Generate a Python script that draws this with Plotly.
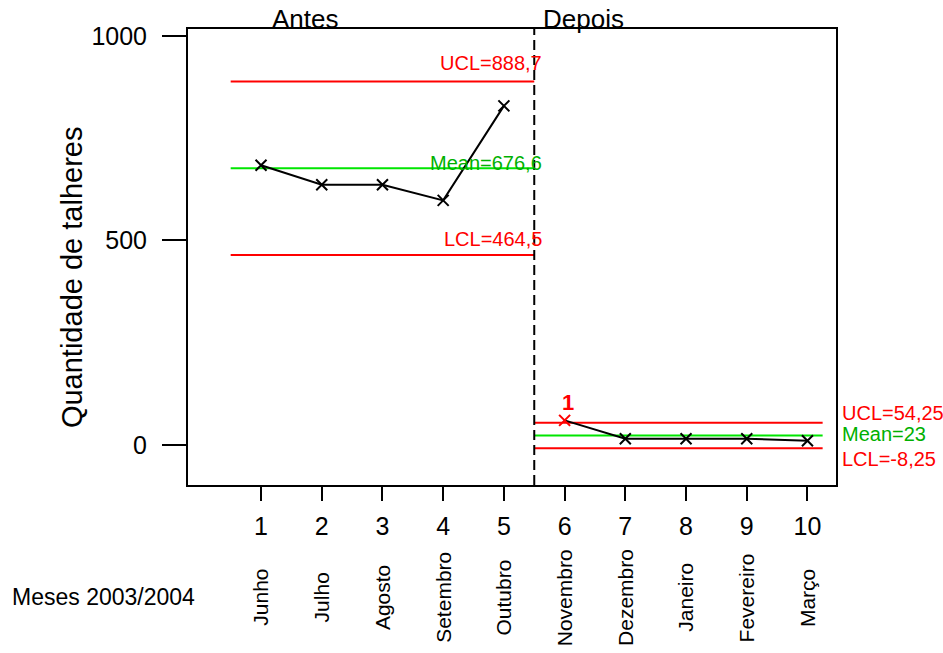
import plotly.graph_objects as go

# Monthly counts of cutlery, before and after the change
months = ["Junho", "Julho", "Agosto", "Setembro", "Outubro",
          "Novembro", "Dezembro", "Janeiro", "Fevereiro", "Março"]
sample = [1, 2, 3, 4, 5, 6, 7, 8, 9, 10]
quantity = [684, 636, 636, 598, 829, 60, 15, 15, 15, 10]

# Two stages of the individuals chart
stage_names = ["Antes", "Depois"]
stage_first = [1, 6]
stage_last = [5, 10]
ucl = [888.7, 54.25]
center = [676.6, 23]
lcl = [464.5, -8.25]

# Points flagged by test 1 (beyond the control limits)
flagged = [6]

RED = "#ff0000"
GREEN_LINE = "#00e600"
GREEN_TEXT = "#00b000"
FONT = "Liberation Sans, Arial, sans-serif"


def fmt(v):
    return f"{v:g}".replace(".", ",")


fig = go.Figure()

# Control limits and centre line for each stage
for k in range(len(stage_names)):
    x0 = stage_first[k] - 0.5
    x1 = stage_last[k] + (0.5 if k == 0 else 0.25)
    for val, col in ((ucl[k], RED), (center[k], GREEN_LINE), (lcl[k], RED)):
        fig.add_trace(go.Scatter(x=[x0, x1], y=[val, val], mode="lines",
                                 line=dict(color=col, width=2),
                                 hoverinfo="skip", showlegend=False))

# Observations, connected within each stage
for k in range(len(stage_names)):
    idx = [i for i, s in enumerate(sample) if stage_first[k] <= s <= stage_last[k]]
    xs = [sample[i] for i in idx]
    ys = [quantity[i] for i in idx]
    cols = [RED if sample[i] in flagged else "black" for i in idx]
    fig.add_trace(go.Scatter(x=xs, y=ys, mode="lines+markers",
                             line=dict(color="black", width=2),
                             marker=dict(symbol="x-thin", size=11,
                                         line=dict(color=cols, width=2)),
                             showlegend=False))

# Stage divider
fig.add_shape(type="line", xref="x", yref="paper",
              x0=stage_last[0] + 0.5, x1=stage_last[0] + 0.5, y0=0, y1=1,
              line=dict(color="black", width=2, dash="10px,5px"))

ann = []
# Stage names on the top border
stage_label_x = [1.74, 6.31]
for k, name in enumerate(stage_names):
    ann.append(dict(x=stage_label_x[k], y=0.985,
                    xref="x", yref="paper", text=name, showarrow=False,
                    xanchor="center", yanchor="bottom",
                    font=dict(size=26, color="black", family=FONT)))

# Limit labels, stage 1 (right-aligned at the divider)
xr = stage_last[0] + 0.66
for val, col, dy, lab in ((ucl[0], RED, 18, "UCL"), (center[0], GREEN_TEXT, 5, "Mean"),
                          (lcl[0], RED, 16, "LCL")):
    ann.append(dict(x=xr, y=val, xref="x", yref="y", text=f"{lab}={fmt(val)}",
                    showarrow=False, xanchor="right", yanchor="middle", yshift=dy,
                    font=dict(size=20, color=col, family=FONT)))

# Limit labels, stage 2 (outside the plot on the right)
for val, col, dy, lab in ((ucl[1], RED, 10, "UCL"), (center[1], GREEN_TEXT, 2, "Mean"),
                          (lcl[1], RED, -11, "LCL")):
    ann.append(dict(x=1.006, y=val, xref="paper", yref="y", text=f"{lab}={fmt(val)}",
                    showarrow=False, xanchor="left", yanchor="middle", yshift=dy,
                    font=dict(size=20, color=col, family=FONT)))

# Test-failure marker
for s in flagged:
    ann.append(dict(x=s + 0.05, y=quantity[sample.index(s)], xref="x", yref="y",
                    text="<b>1</b>", showarrow=False, xanchor="center", yanchor="bottom",
                    yshift=3, font=dict(size=22, color=RED, family=FONT)))

# Month names under the sample numbers
for s, m in zip(sample, months):
    ann.append(dict(x=s, y=-0.247, xref="x", yref="paper", text=m, textangle=-90,
                    showarrow=False, xanchor="center", yanchor="middle",
                    font=dict(size=21, color="black", family=FONT)))

ann.append(dict(x=-0.274, y=-0.246, xref="paper", yref="paper", text="Meses 2003/2004",
                showarrow=False, xanchor="left", yanchor="middle",
                font=dict(size=23, color="black", family=FONT)))

ann.append(dict(x=-0.179, y=0.456, xref="paper", yref="paper",
                text="Quantidade de talheres", textangle=-90, showarrow=False,
                xanchor="center", yanchor="middle",
                font=dict(size=29, color="black", family=FONT)))

fig.update_layout(
    width=943, height=653,
    margin=dict(l=188, r=107, t=29, b=168),
    paper_bgcolor="white", plot_bgcolor="white",
    font=dict(family=FONT, color="black"),
    annotations=ann,
    xaxis=dict(range=[-0.203, 10.47], tickvals=sample, ticktext=[str(s) for s in sample],
               showgrid=False, zeroline=False, showline=True, mirror=True,
               linecolor="black", linewidth=2, ticks="outside", ticklen=14,
               tickwidth=1.5, tickcolor="black", ticklabelstandoff=4,
               tickfont=dict(size=25, family=FONT, color="black")),
    yaxis=dict(range=[-98, 1017], tickvals=[0, 500, 1000],
               showgrid=False, zeroline=False, showline=True, mirror=True,
               linecolor="black", linewidth=2, ticks="outside", ticklen=24,
               tickwidth=2, tickcolor="black", ticklabelstandoff=10,
               tickfont=dict(size=25, family=FONT, color="black")),
)

fig.write_html("out.html")
